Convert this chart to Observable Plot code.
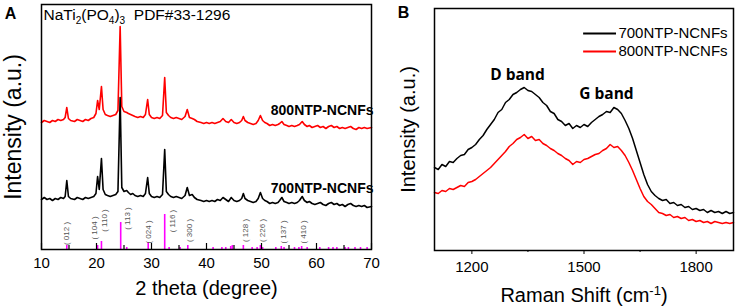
<!DOCTYPE html>
<html><head><meta charset="utf-8">
<script src="https://cdn.jsdelivr.net/npm/d3@7"></script>
<script src="https://cdn.jsdelivr.net/npm/@observablehq/plot@0.6"></script>
<style>
body{margin:0;background:#fff}
#wrap{position:relative;width:737px;height:307px;overflow:hidden;background:#fff}
#wrap svg{position:absolute;top:0}
</style>
</head><body><div id="wrap"></div>
<script>
// ---------- Panel A: XRD (2theta, intensity a.u.) ----------
const xrd700 = [
[10.0,50],[10.5,52],[11.0,50],[11.5,51],[12.0,49],[12.5,51],[13.0,50],[13.5,52],[14.0,51],[14.3,53],[14.6,69],[14.9,53],[15.3,51],[16.0,50],[16.5,52],[17.0,51],[17.5,50],[18.0,52],[18.5,51],[19.0,52],[19.5,53],[19.9,56],[20.2,73],[20.5,60],[20.9,91],[21.2,60],[21.6,55],[22.0,54],[22.5,53],[23.0,54],[23.5,55],[23.9,58],[24.3,152],[24.6,62],[25.0,58],[25.5,59],[25.8,57],[26.2,55],[26.6,56],[27.0,54],[27.5,53],[28.0,54],[28.5,53],[28.9,56],[29.3,72],[29.6,56],[30.0,53],[30.5,52],[31.0,53],[31.5,52],[32.0,55],[32.4,100],[32.7,58],[33.1,55],[33.5,53],[34.0,52],[34.5,53],[35.0,52],[35.5,51],[36.1,54],[36.5,62],[36.9,54],[37.4,55],[37.8,52],[38.3,50],[39.0,49],[39.5,48],[40.0,49],[40.5,48],[41.0,49],[41.5,48],[42.0,50],[42.5,49],[43.0,52],[43.5,50],[44.0,48],[44.5,52],[45.0,49],[45.5,48],[46.0,49],[46.4,51],[46.7,56],[47.0,51],[47.5,49],[48.0,48],[48.5,47],[49.0,48],[49.4,51],[49.8,57],[50.2,51],[50.6,49],[51.0,48],[51.5,46],[52.0,47],[52.5,46],[53.0,47],[53.3,49],[53.7,52],[54.1,48],[54.6,47],[55.0,46],[55.5,47],[56.0,46],[56.5,47],[56.9,49],[57.4,53],[57.8,49],[58.3,47],[58.7,48],[59.2,46],[59.7,45],[60.2,46],[60.7,47],[61.2,45],[61.7,44],[62.2,46],[62.7,47],[63.2,45],[63.7,46],[64.2,44],[64.7,45],[65.2,43],[65.7,45],[66.2,46],[66.7,44],[67.2,43],[67.7,44],[68.2,43],[68.7,44],[69.2,42],[70.0,43]
];
const xrd800 = [
[10.0,127],[10.5,129],[11.0,128],[11.5,127],[12.0,129],[12.5,128],[13.0,130],[13.5,129],[14.0,130],[14.3,132],[14.6,142],[14.9,131],[15.3,129],[16.0,128],[16.5,130],[17.0,129],[17.5,128],[18.0,130],[18.5,129],[19.0,131],[19.5,132],[19.9,136],[20.2,149],[20.5,140],[20.9,163],[21.2,140],[21.6,135],[22.0,134],[22.5,133],[23.0,134],[23.5,135],[23.9,139],[24.3,223],[24.6,143],[25.0,138],[25.5,137],[25.8,136],[26.2,135],[26.6,134],[27.0,133],[27.5,132],[28.0,133],[28.5,132],[28.9,135],[29.3,150],[29.6,135],[30.0,132],[30.5,131],[31.0,132],[31.5,131],[32.0,134],[32.4,172],[32.7,137],[33.1,134],[33.5,132],[34.0,131],[34.5,132],[35.0,131],[35.5,130],[36.1,133],[36.5,140],[36.9,132],[37.4,131],[37.8,130],[38.3,128],[39.0,127],[39.5,126],[40.0,127],[40.5,126],[41.0,127],[41.5,126],[42.0,127],[42.5,128],[43.0,131],[43.5,128],[44.0,127],[44.5,130],[45.0,127],[45.5,126],[46.0,127],[46.4,129],[46.7,133],[47.0,129],[47.5,127],[48.0,126],[48.5,125],[49.0,126],[49.4,129],[49.8,134],[50.2,129],[50.6,127],[51.0,126],[51.5,124],[52.0,125],[52.5,124],[53.0,125],[53.3,126],[53.7,128],[54.1,125],[54.6,124],[55.0,123],[55.5,124],[56.0,123],[56.5,124],[56.9,125],[57.4,128],[57.8,125],[58.3,123],[58.7,124],[59.2,122],[59.7,123],[60.2,124],[60.7,122],[61.2,123],[61.7,121],[62.2,123],[62.7,124],[63.2,122],[63.7,123],[64.2,121],[64.7,122],[65.2,121],[65.7,122],[66.2,123],[66.7,121],[67.2,120],[67.7,122],[68.2,121],[68.7,122],[69.2,121],[70.0,122]
];
// PDF#33-1296 reference lines: [2theta, relative height]
const refSticks = [
[14.6,4],[20.2,4],[20.9,8],[24.4,27],[25.5,2],[29.4,7],[32.4,35],[33.2,2],[35.2,2],[36.6,4],[41.2,2],[42.8,2],[43.5,2],[44.4,3],[44.7,4],[46.7,4],[48.3,2],[49.2,2],[49.8,4],[50.2,2],[52.6,2],[53.6,3],[54.1,2],[56.0,2],[56.8,2],[57.3,3],[58.3,2],[60.6,2],[62.2,2],[63.0,2],[63.7,2],[65.2,2],[65.8,2],[67.0,2],[68.0,2],[69.2,2]
];
// Miller indices: [hkl, 2theta, label centre]
const miller = [
["012",14.6,16],["104",19.6,21.5],["110",21.5,29],["113",25.6,31],["024",29.5,17.5],["116",33.8,28.5],["300",36.9,19],["128",47.1,19],["226",50.2,19],["137",54.0,17.5],["410",57.6,17.5]
];
const sampleLabelsA = [["800NTP-NCNFs",139],["700NTP-NCNFs",61]];
const xMajorA = [10,20,30,40,50,60,70];
const xMinorA = [15,25,35,45,55,65];

// ---------- Panel B: Raman ----------
const ramanShift = [1100,1110,1120,1130,1140,1150,1160,1170,1180,1190,1200,1210,1220,1230,1240,1250,1260,1270,1280,1290,1300,1310,1320,1330,1340,1350,1360,1370,1380,1390,1400,1410,1420,1430,1440,1450,1460,1470,1480,1490,1500,1510,1520,1530,1540,1550,1560,1570,1580,1590,1600,1610,1620,1630,1640,1650,1660,1670,1680,1690,1700,1710,1720,1730,1740,1750,1760,1770,1780,1790,1800,1810,1820,1830,1840,1850,1860,1870,1880,1890,1900];
const raman700 = [83,81,86,84,89,88,92,95,96,101,103,106,111,115,121,126,131,138,141,148,151,156,158,161,163,160,159,156,153,148,145,139,137,131,129,125,127,122,125,123,126,124,128,131,134,136,139,138,143,141,137,130,122,112,100,88,76,66,59,55,52,50,51,47,48,45,46,43,44,41,42,40,41,38,40,38,39,37,39,37,38];
const raman800 = [58,57,60,59,62,61,63,65,64,68,69,71,74,77,80,83,87,91,95,99,104,107,111,113,116,112,114,110,111,107,105,102,100,97,95,92,90,86,89,88,91,92,94,96,97,100,102,106,103,104,100,95,88,80,71,62,54,49,46,42,38,37,35,36,33,34,32,33,30,31,29,30,28,29,27,29,28,27,28,27,28];
const xMajorB = [1200,1500,1800];
const xMinorB = [1350,1650];
const bandLabels = [["D band",1322,175],["G band",1560,156]];
const legendB = [["700NTP-NCNFs","black",217],["800NTP-NCNFs","#ff0000",199]];

const FONT = "'Liberation Sans', Arial, Helvetica, sans-serif";

const plotA = Plot.plot({
  width: 380, height: 307,
  marginLeft: 41, marginRight: 9, marginTop: 4, marginBottom: 58,
  x: {domain: [10,70]},
  y: {domain: [0,245], axis: null},
  style: {fontFamily: FONT, fontSize: "15px", background: "white", overflow: "visible", color: "black"},
  marks: [
    Plot.ruleX(refSticks, {x: d => d[0], y1: 0, y2: d => d[1], stroke: "#ff00ff", strokeWidth: 1.6}),
    Plot.ruleX(xMajorA, {x: d => d, y1: 0, y2: 6, stroke: "black", strokeWidth: 1.2}),
    Plot.ruleX(xMinorA, {x: d => d, y1: 0, y2: 4, stroke: "black", strokeWidth: 1.2}),
    Plot.text(miller, {x: d => d[1], y: d => d[2], text: d => `( ${d[0]} )`, rotate: -90, fontSize: 8, fill: "#555"}),
    Plot.line(xrd800, {x: d => d[0], y: d => d[1], stroke: "#ff0000", strokeWidth: 1.6}),
    Plot.line(xrd700, {x: d => d[0], y: d => d[1], stroke: "black", strokeWidth: 1.6}),
    Plot.text(sampleLabelsA, {x: 70, y: d => d[1], text: d => d[0], textAnchor: "end", dx: 2, fontSize: 14, fontWeight: "bold"}),
    Plot.axisX({ticks: xMajorA, tickSize: 0, tickPadding: 8, label: null, fontSize: 15, tickFormat: d => String(d)}),
    Plot.frame({stroke: "black", strokeWidth: 1.5}),
    Plot.text(["NaTi2(PO4)3\u00a0\u00a0PDF#33-1296"], {frameAnchor: "top-left", dx: 2, dy: 4, lineAnchor: "top", fontSize: 15.5, textAnchor: "start"}),
    Plot.text(["2 theta (degree)"], {frameAnchor: "bottom", dy: 38.6, lineAnchor: "middle", textAnchor: "middle", fontSize: 20}),
    Plot.text(["Intensity (a.u.)"], {frameAnchor: "left", dx: -28, rotate: -90, textAnchor: "middle", lineAnchor: "middle", fontSize: 23}),
    Plot.text(["A"], {frameAnchor: "top-left", dx: -31, dy: 9, textAnchor: "middle", lineAnchor: "middle", fontSize: 16, fontWeight: "bold"})
  ]
});

const plotB = Plot.plot({
  width: 357, height: 307,
  marginLeft: 54, marginRight: 4, marginTop: 8, marginBottom: 57,
  x: {domain: [1100,1900]},
  y: {domain: [0,242], axis: null},
  style: {fontFamily: FONT, fontSize: "15px", background: "white", overflow: "visible", color: "black"},
  marks: [
    Plot.line(ramanShift, {x: d => d, y: (d, i) => raman800[i], stroke: "#ff0000", strokeWidth: 1.5}),
    Plot.line(ramanShift, {x: d => d, y: (d, i) => raman700[i], stroke: "black", strokeWidth: 1.5}),
    Plot.axisX({ticks: xMajorB, tickSize: 4, tickPadding: 7, label: null, fontSize: 15, tickFormat: d => String(d)}),
    Plot.axisX({ticks: xMinorB, tickSize: 2, tickFormat: () => "", label: null}),
    Plot.frame({stroke: "black", strokeWidth: 1.5}),
    Plot.text(bandLabels, {x: d => d[1], y: d => d[2], text: d => d[0], fontFamily: "'Open Sans', sans-serif", fontWeight: "bold", fontSize: 15.5}),
    Plot.ruleY(legendB, {y: d => d[2], x1: 1499, x2: 1587, stroke: d => d[1], strokeWidth: 2}),
    Plot.text(legendB, {x: 1592, y: d => d[2], text: d => d[0], textAnchor: "start", fontSize: 15}),
    Plot.text(["Raman Shift (cm-1)"], {frameAnchor: "bottom", dy: 44.6, lineAnchor: "middle", textAnchor: "middle", fontSize: 20}),
    Plot.text(["Intensity (a.u.)"], {frameAnchor: "left", dx: -25.5, rotate: -90, textAnchor: "middle", lineAnchor: "middle", fontSize: 20}),
    Plot.text(["B"], {frameAnchor: "top-left", dx: -31, dy: 4, textAnchor: "middle", lineAnchor: "middle", fontSize: 16, fontWeight: "bold"})
  ]
});

plotA.style.left = "0px";
plotB.style.left = "380px";
const wrap = document.getElementById("wrap");
wrap.appendChild(plotA);
wrap.appendChild(plotB);

// rich text: subscripts / superscripts as tspans
const NS = "http://www.w3.org/2000/svg";
function richify(svg, plain, parts) {
  svg.querySelectorAll("text").forEach(t => {
    if (t.textContent !== plain) return;
    while (t.firstChild) t.removeChild(t.firstChild);
    let shift = 0;
    parts.forEach(([s, kind]) => {
      const ts = document.createElementNS(NS, "tspan");
      ts.textContent = s;
      let target = kind === "sub" ? 4 : kind === "sup" ? -7 : 0;
      const dy = target - shift;
      if (dy !== 0) ts.setAttribute("dy", dy);
      shift = target;
      if (kind) ts.setAttribute("font-size", "65%");
      t.appendChild(ts);
    });
  });
}
richify(plotA, "NaTi2(PO4)3\u00a0\u00a0PDF#33-1296", [["NaTi",null],["2","sub"],["(PO",null],["4","sub"],[")",null],["3","sub"],["\u00a0\u00a0PDF#33-1296",null]]);
richify(plotB, "Raman Shift (cm-1)", [["Raman Shift (cm",null],["-1","sup"],[")",null]]);
</script></body></html>
